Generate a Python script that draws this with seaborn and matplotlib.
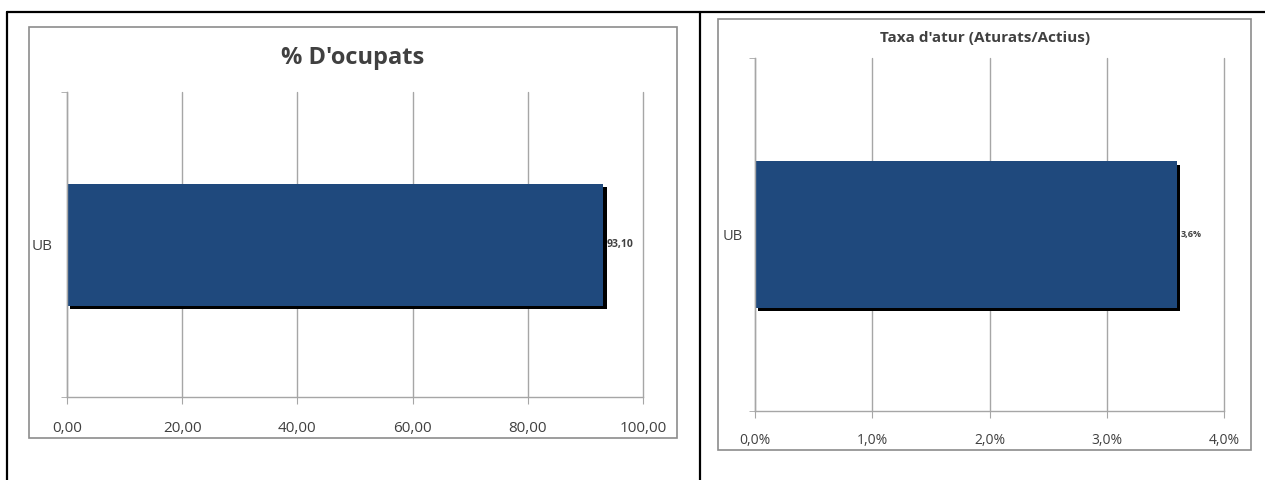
import numpy as np
import pandas as pd
import matplotlib
matplotlib.use("Agg")
import matplotlib.pyplot as plt
import matplotlib.patheffects as pe
from matplotlib.patches import Rectangle
from matplotlib.lines import Line2D
from matplotlib.ticker import FuncFormatter, FixedLocator
import seaborn as sns

# dades
categories = ["UB"]
ocupats = [93.10]
atur = [0.036]
ocupats_ticks = [0, 20, 40, 60, 80, 100]
atur_ticks = [0.0, 0.01, 0.02, 0.03, 0.04]

BAR_COLOR = "#1F497D"
GRID_COLOR = "#A6A6A6"
TEXT_COLOR = "#404040"

sns.set_style("white")
plt.rcParams['font.family'] = ['Open Sans', 'DejaVu Sans']

fig = plt.figure(figsize=(12.65, 4.8), dpi=100)
W, H = 1265, 480


def px_rect(x0, y0, x1, y1):
    # caixa en píxels -> fraccions de figura
    return [x0 / W, 1 - y1 / H, (x1 - x0) / W, (y1 - y0) / H]


def style_axes(ax, ticks, fmt, tick_size, cat_size, pad_x, pad_y):
    ax.set_xlim(ticks[0], ticks[-1])
    ax.set_ylim(0.5, -0.5)
    ax.xaxis.set_major_locator(FixedLocator(ticks))
    ax.xaxis.set_major_formatter(FuncFormatter(fmt))
    ax.grid(axis='x', color=GRID_COLOR, linewidth=1)
    ax.grid(axis='y', visible=False)
    ax.set_axisbelow(True)
    for line in ax.get_xgridlines():
        line.set_clip_on(False)
    for s in ['top', 'right']:
        ax.spines[s].set_visible(False)
    for s in ['left', 'bottom']:
        ax.spines[s].set_color(GRID_COLOR)
        ax.spines[s].set_linewidth(1)
    ax.tick_params(axis='x', bottom=True, length=5, color=GRID_COLOR,
                   labelsize=tick_size, labelcolor=TEXT_COLOR, pad=pad_x)
    ax.tick_params(axis='y', left=False, length=0, labelsize=cat_size,
                   labelcolor=TEXT_COLOR, pad=pad_y)
    ax.set_yticks([-0.5, 0.5], minor=True)
    ax.tick_params(axis='y', which='minor', left=True, length=4, color=GRID_COLOR)
    ax.set_xlabel("")
    ax.set_ylabel("")


def add_shadow(ax):
    for p in ax.patches:
        p.set_linewidth(0)
        p.set_path_effects([pe.SimplePatchShadow(offset=(2.4, -2.6), shadow_rgbFace='black', alpha=1.0),
                            pe.Normal()])


# grafic esquerre: % d'ocupats
ax1 = fig.add_axes(px_rect(67, 92, 643, 397))
df1 = pd.DataFrame({"cat": categories, "val": ocupats})
sns.barplot(data=df1, x="val", y="cat", orient='h', color=BAR_COLOR, width=0.40,
            saturation=1, linewidth=0, ax=ax1)
style_axes(ax1, ocupats_ticks, lambda v, p: f"{v:.2f}".replace('.', ','), 11, 11, 12.5, 10)
add_shadow(ax1)
for v in ocupats:
    ax1.text(v + 0.6, 0, f"{v:.2f}".replace('.', ','), va='center', ha='left',
             fontsize=7.5, fontweight='bold', color=TEXT_COLOR)

# grafic dret: taxa d'atur
ax2 = fig.add_axes(px_rect(755, 58, 1224, 411))
df2 = pd.DataFrame({"cat": categories, "val": atur})
sns.barplot(data=df2, x="val", y="cat", orient='h', color=BAR_COLOR, width=0.414,
            saturation=1, linewidth=0, ax=ax2)
style_axes(ax2, atur_ticks, lambda v, p: f"{v * 100:.1f}%".replace('.', ','), 10, 10.5, 10.5, 8.5)
add_shadow(ax2)
for v in atur:
    ax2.text(v + 0.0003, 0, f"{v * 100:.1f}%".replace('.', ','), va='center', ha='left',
             fontsize=6.5, fontweight='bold', color=TEXT_COLOR)

# titols
fig.text(353 / W, 1 - 58 / H, "% D'ocupats", ha='center', va='center', fontsize=17,
         fontweight='bold', color=TEXT_COLOR)
fig.text(985 / W, 1 - 38 / H, "Taxa d'atur (Aturats/Actius)", ha='center', va='center',
         fontsize=11, fontweight='bold', color=TEXT_COLOR)

# marcs dels grafics
for x0, y0, x1, y1 in [(29, 27, 677, 438), (718, 19, 1251, 450)]:
    fig.patches.append(Rectangle((x0 / W, 1 - y1 / H), (x1 - x0) / W, (y1 - y0) / H,
                                 transform=fig.transFigure, fill=False,
                                 edgecolor="#8C8C8C", linewidth=1.2))

# vores de la taula del document
for xs, ys in [([7, 1265], [12, 12]), ([7, 7], [12, 480]), ([700, 700], [12, 480])]:
    fig.lines.append(Line2D([x / W for x in xs], [1 - y / H for y in ys],
                            transform=fig.transFigure, color='black', linewidth=1.6))

fig.savefig("out.png", dpi=100, facecolor='white')
